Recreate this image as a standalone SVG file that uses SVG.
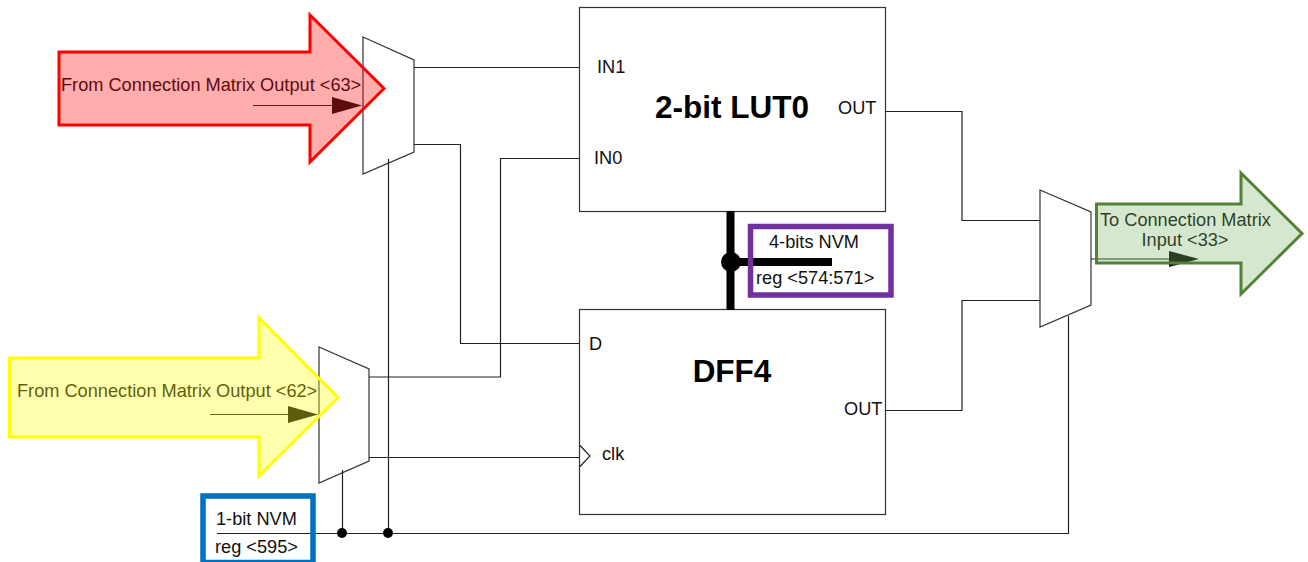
<svg xmlns="http://www.w3.org/2000/svg" width="1308" height="562" viewBox="0 0 1308 562">
<style>
text{font-family:"Liberation Sans",Arial,sans-serif;font-size:18.200px;fill:#111}
.big{font-size:31.500px;font-weight:bold;fill:#000}
.w{fill:none;stroke:#222;stroke-width:1.200}
.box{fill:#fff;stroke:#333;stroke-width:1.200}
.tri{fill:#111;stroke:none}
.dot{fill:#000}
.bus{fill:none;stroke:#000;stroke-width:8}
</style>
<rect width="1308" height="562" fill="#fff"/>
<g id="lut"><rect class="box" x="579.500" y="7.500" width="306" height="204"/>
<text x="597" y="73">IN1</text><text x="594" y="164">IN0</text><text x="838" y="113.500">OUT</text><text class="big" x="732" y="118" text-anchor="middle">2-bit LUT0</text></g>
<g id="dff"><rect class="box" x="579.500" y="309.500" width="306" height="205"/>
<text x="589" y="350">D</text><text x="602" y="460">clk</text><text x="844" y="414.500">OUT</text><text class="big" x="732" y="382" text-anchor="middle">DFF4</text>
<path class="w" d="M579.500 445L590 456L579.500 467"/></g>
<g id="mux1"><path class="box" d="M363 37L414 60V152L363 174Z"/></g>
<g id="mux2"><path class="box" d="M319 347L369 369V461L319 483Z"/></g>
<g id="mux3"><path class="box" d="M1040 190L1091 212V305L1040 327Z"/></g>
<g id="connectors">
<path class="w" d="M414 67.500H579M414 144.500H460.500V343.500H579M369 377H500.500V158.500H579M369 457.500H579"/>
<path class="w" d="M885 111.500H962V220.500H1040M885 410.500H962V300.500H1040M1091 259H1172"/>
<path class="w" d="M217 533.500H1068.500V316M342.500 533V470M388.500 533V159"/>
<path class="w" d="M253 105.500H335M210 414.500H290"/>
<path class="bus" d="M730.500 211V310M731 262H832"/>
<circle class="dot" cx="731" cy="262" r="10"/>
<circle class="dot" cx="342" cy="533" r="5"/><circle class="dot" cx="388" cy="533" r="5"/>
<polygon class="tri" points="332,97 362,105.500 332,114"/>
<polygon class="tri" points="288,406 318,414.500 288,423"/>
<polygon class="tri" points="1169,251 1199,259 1169,267"/>
</g>
<g id="nvm4"><rect x="750.500" y="226.500" width="140.500" height="68.500" fill="none" stroke="#7030a0" stroke-width="5.500"/>
<text x="769" y="248">4-bits NVM</text><text x="756" y="284">reg &lt;574:571&gt;</text></g>
<g id="nvm1"><rect x="203" y="496" width="110" height="66.500" fill="none" stroke="#0070c0" stroke-width="5.500"/>
<text x="216" y="525">1-bit NVM</text><text x="215" y="553">reg &lt;595&gt;</text></g>
<g id="from63"><text x="61" y="91">From Connection Matrix Output &lt;63&gt;</text>
<path d="M59 52H310V15L384 88.500L310 162V125H59Z" fill="#ff0000" fill-opacity=".32" stroke="#ff0000" stroke-width="3"/></g>
<g id="from62"><text x="17" y="397">From Connection Matrix Output &lt;62&gt;</text>
<path d="M9.500 358H259V318L338 397.500L259 476V437H9.500Z" fill="#ffff00" fill-opacity=".32" stroke="#ffff00" stroke-width="3"/></g>
<g id="to33"><text x="1100" y="226">To Connection Matrix</text><text x="1185" y="246" text-anchor="middle">Input &lt;33&gt;</text>
<path d="M1096.500 204H1241V173L1302 233.500L1241 294V263H1096.500Z" fill="rgb(110,175,90)" fill-opacity=".29" stroke="#548235" stroke-width="3"/></g>
</svg>
